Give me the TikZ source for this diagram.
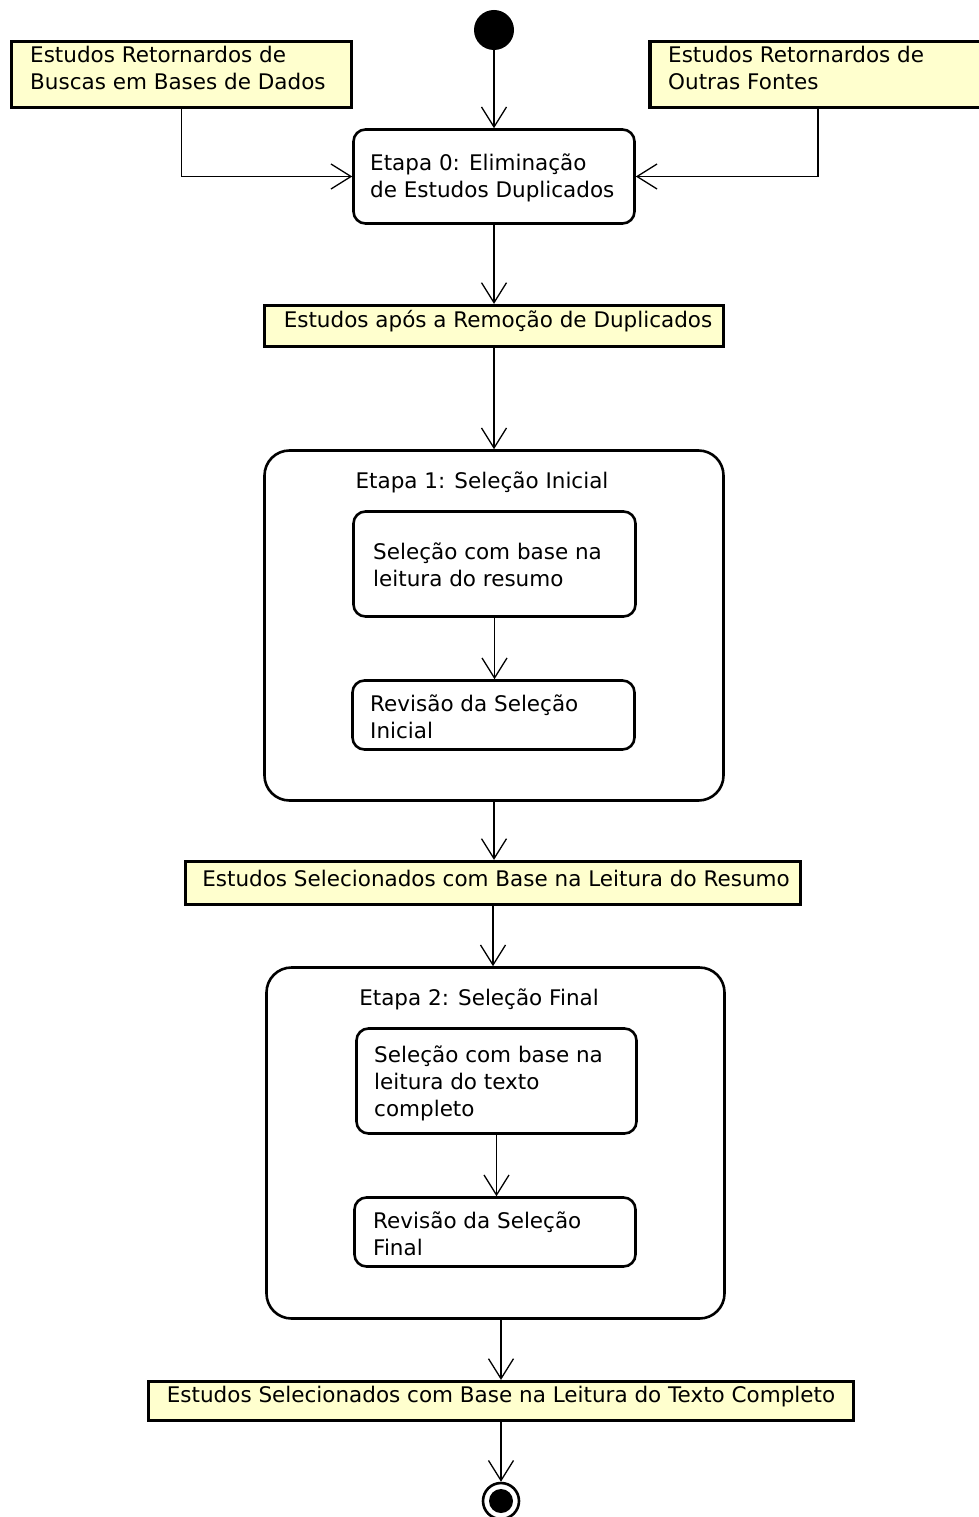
\documentclass[tikz,border=0pt]{standalone}
\usepackage{fontspec}
\setmainfont{DejaVu Sans}
\usetikzlibrary{arrows.meta}
\definecolor{objfill}{RGB}{255,255,206}
\begin{document}
\begin{tikzpicture}[x=1pt,y=-1pt,
  txt/.style={font=\fontsize{21.5}{27}\selectfont, align=left, inner sep=0pt, anchor=west},
  ctxt/.style={font=\fontsize{21.5}{27}\selectfont, inner sep=0pt, anchor=center},
  obj/.style={draw, line width=3.2pt, fill=objfill, rectangle, inner sep=0pt},
  act/.style={draw, line width=2.6pt, rounded corners=12pt, fill=white, rectangle, inner sep=0pt},
  cont/.style={draw, line width=2.6pt, rounded corners=25pt, rectangle, inner sep=0pt},
  flow/.style={line width=1.3pt, -{Straight Barb[length=20pt,width=25pt,line width=1.3pt]}}]
\useasboundingbox (0,0) rectangle (978,1517);

% initial node
\node[circle, fill=black, minimum size=40pt, inner sep=0pt] (init) at (494,30) {};

% input objects
\node[obj, minimum width=340pt, minimum height=66pt] (lbox) at (181.5,74.5) {};
\node[txt] (lboxt) at (30,67.5) {Estudos Retornardos de\\Buscas em Bases de Dados};
\node[obj, minimum width=336pt, minimum height=66pt] (rbox) at (818,74.5) {};
\node[txt] (rboxt) at (668,67.5) {Estudos Retornardos de\\Outras Fontes};

% Etapa 0
\node[act, minimum width=281pt, minimum height=94pt] (e0) at (494,176.5) {};
\node[txt] (e0t) at (370,178) {Etapa 0: Eliminação\\de Estudos Duplicados};

% after duplicates
\node[obj, minimum width=459pt, minimum height=41pt] (dup) at (494,326) {};
\node[ctxt] (dupt) at (498,321) {Estudos após a Remoção de Duplicados};

% Etapa 1
\node[cont, minimum width=459pt, minimum height=350pt] (c1) at (494,625.5) {};
\node[ctxt] (c1t) at (482,482) {Etapa 1: Seleção Inicial};
\node[act, minimum width=282pt, minimum height=105pt] (a1) at (494.5,564) {};
\node[txt] (a1t) at (373,565) {Seleção com base na\\leitura do resumo};
\node[act, minimum width=282pt, minimum height=69pt] (a2) at (493.5,715) {};
\node[txt] (a2t) at (370,717) {Revisão da Seleção\\Inicial};

% resumo
\node[obj, minimum width=615pt, minimum height=43pt] (res) at (493,883) {};
\node[ctxt] (rest) at (496,878) {Estudos Selecionados com Base na Leitura do Resumo};

% Etapa 2
\node[cont, minimum width=458pt, minimum height=351pt] (c2) at (495.5,1143) {};
\node[ctxt] (c2t) at (479,999) {Etapa 2: Seleção Final};
\node[act, minimum width=280pt, minimum height=105pt] (a3) at (496.5,1081) {};
\node[txt] (a3t) at (374,1083) {Seleção com base na\\leitura do texto\\completo};
\node[act, minimum width=281pt, minimum height=69pt] (a4) at (495,1232) {};
\node[txt] (a4t) at (373,1234) {Revisão da Seleção\\Final};

% texto completo
\node[obj, minimum width=705pt, minimum height=39pt] (tc) at (501,1401) {};
\node[ctxt] (tct) at (501,1397) {Estudos Selecionados com Base na Leitura do Texto Completo};

% final node
\node[circle, draw, line width=2.6pt, fill=white, minimum size=36pt, inner sep=0pt] (fin) at (501,1501) {};
\fill (fin.center) circle (12);

% connectors
\draw[flow] (init.south) -- (init.south |- e0.north);
\draw[flow] (lbox.south) |- (e0.west);
\draw[flow] (rbox.south) |- (e0.east);
\draw[flow] (e0.south) -- (e0.south |- dup.north);
\draw[flow] (dup.south) -- (dup.south |- c1.north);
\draw[flow] (a1.south) -- (a1.south |- a2.north);
\draw[flow] (c1.south) -- (c1.south |- res.north);
\draw[flow] (res.south) -- (res.south |- c2.north);
\draw[flow] (a3.south) -- (a3.south |- a4.north);
\draw[flow] (tc.north |- c2.south) -- (tc.north);
\draw[flow] (tc.south) -- (fin.north);
\end{tikzpicture}
\end{document}
